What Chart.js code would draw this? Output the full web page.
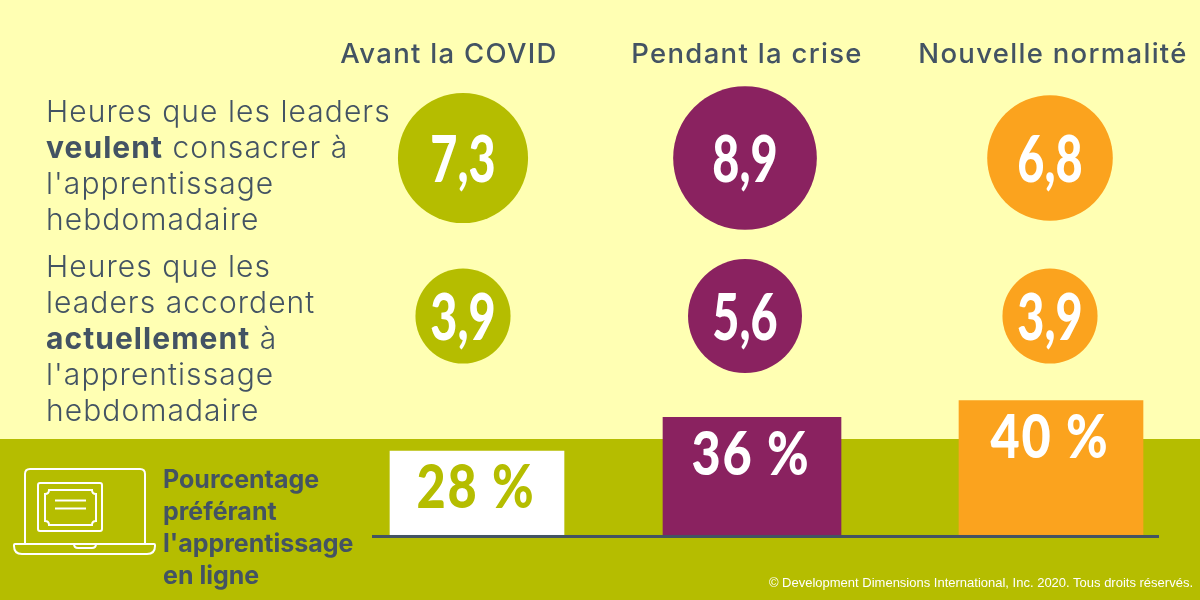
<!DOCTYPE html>
<html lang="fr">
<head>
<meta charset="utf-8">
<title>Apprentissage des leaders</title>
<script src="https://cdn.jsdelivr.net/npm/chart.js@4"></script>
<style>
  html, body { margin: 0; padding: 0; }
  #page { position: relative; width: 1200px; height: 600px; overflow: hidden; background: #ffffb3; font-family: Inter, sans-serif; color: #435363; }
  #band { position: absolute; left: 0; top: 439px; width: 1200px; height: 161px; background: #b5bd00; }
  canvas { position: absolute; left: 0; top: 0; }
  .rowLabel { position: absolute; left: 46px; font-size: 30px; font-weight: 300; line-height: 36px; letter-spacing: 1.05px; white-space: nowrap; }
  .rowLabel b { font-weight: 700; }
  #barLabel { position: absolute; left: 163px; top: 463px; font-size: 25px; font-weight: 700; line-height: 32px; white-space: nowrap; }
  #laptop { position: absolute; left: 0; top: 420px; }
  #copyright { position: absolute; right: 7px; top: 575px; font: 13px "Liberation Sans", sans-serif; color: #fff; white-space: nowrap; }
</style>
</head>
<body>
<div id="page">
  <div id="band"></div>
  <canvas id="chart" width="1200" height="600"></canvas>
  <div class="rowLabel" style="top:93px">Heures que les leaders<br><b>veulent</b> consacrer à<br>l'apprentissage<br>hebdomadaire</div>
  <div class="rowLabel" style="top:248px">Heures que les<br>leaders accordent<br><b>actuellement</b> à<br>l'apprentissage<br>hebdomadaire</div>
  <svg id="laptop" width="170" height="150" fill="none" stroke="#fff" stroke-width="2">
    <path d="M25 123V54q0-5 5-5H140q5 0 5 5V123"/>
    <path d="M15 124H154q1 0 1 1v1q0 8-8 8H22q-8 0-8-8v-1q0-1 1-1Z"/>
    <path d="M74 124q0 4 4 4H92q4 0 4-4"/>
    <rect x="38" y="63" width="64" height="48" rx="2"/>
    <path d="M49 70H92q0 4 4 4V101q-4 0-4 4H49q0-4-4-4V74q4 0 4-4Z"/>
    <path d="M55 80.500H86M55 88.500H86"/>
  </svg>
  <div id="barLabel">Pourcentage<br>préférant<br>l'apprentissage<br>en ligne</div>
  <div id="copyright">© Development Dimensions International, Inc. 2020. Tous droits réservés.</div>
</div>
<script>
const phases = ["Avant la COVID", "Pendant la crise", "Nouvelle normalité"];
const hoursWanted = [7.3, 8.9, 6.8];
const hoursGiven = [3.9, 5.6, 3.9];
const onlinePct = [28, 36, 40];

const colors = ["#b5bd00", "#8a2260", "#fba31e"];
const barColors = ["#ffffff", "#8a2260", "#fba31e"];
const barTextColors = ["#b5bd00", "#ffffff", "#ffffff"];
const barWidths = [174, 178, 184];
const ink = "#435363";

// columns in the picture are not evenly spaced, so the scale looks them up
class ColumnScale extends Chart.CategoryScale {
  getPixelForValue(value) {
    return this.options.centres[value];
  }
}
ColumnScale.id = "columns";
ColumnScale.defaults = Chart.CategoryScale.defaults;
Chart.register(ColumnScale);

const barBase = 8;

function bubbleData(values, row) {
  return values.map((v, i) => ({ x: phases[i], y: row, r: Math.sqrt(v * 580), v: v }));
}

function drawText(ctx, text, x, y, font, color, squeeze, spacing) {
  ctx.save();
  ctx.font = font;
  ctx.fillStyle = color;
  ctx.textAlign = "center";
  ctx.textBaseline = "middle";
  ctx.letterSpacing = (spacing || 0) + "px";
  ctx.translate(x, y);
  ctx.scale(squeeze, 1);
  ctx.fillText(text, 0, 0);
  ctx.restore();
}

const textPlugin = {
  id: "texts",
  afterDatasetsDraw(chart) {
    const ctx = chart.ctx;
    // column headings
    const headX = [449, 747, 1053];
    phases.forEach((name, i) => {
      drawText(ctx, name, headX[i], 55, "500 27.5px Inter", ink, 1, 1.3);
    });
    // baseline under the bars
    const yBase = chart.scales.yBars.getPixelForValue(barBase);
    ctx.fillStyle = ink;
    ctx.fillRect(372, yBase, 787, 3);
    // values inside circles and bars
    chart.data.datasets.forEach((ds, d) => {
      const meta = chart.getDatasetMeta(d);
      if (ds.type === "bubble") {
        meta.data.forEach((el, i) => {
          const label = ds.data[i].v.toFixed(1).replace(".", ",");
          drawText(ctx, label, el.x, el.y + 3, "900 65px Lato", "#fff", 0.72);
        });
      } else {
        const i = ds.barIndex;
        const el = meta.data[i];
        drawText(ctx, onlinePct[i] + " %", el.x - 1, el.y + 38, "900 60px Lato", barTextColors[i], 0.84, 2);
      }
    });
  }
};

new Chart(document.getElementById("chart"), {
  type: "bar",
  data: {
    labels: phases,
    datasets: [
      { type: "bubble", data: bubbleData(hoursWanted, 0), backgroundColor: colors, borderWidth: 0, xAxisID: "xCircles", yAxisID: "yRows" },
      { type: "bubble", data: bubbleData(hoursGiven, 1), backgroundColor: colors, borderWidth: 0, xAxisID: "xCircles", yAxisID: "yRows" },
      ...onlinePct.map((v, i) => ({
        type: "bar",
        barIndex: i,
        data: onlinePct.map((_, j) => (j === i ? v : null)),
        backgroundColor: barColors[i],
        barThickness: barWidths[i],
        base: barBase,
        grouped: false,
        xAxisID: "xBars",
        yAxisID: "yBars"
      }))
    ]
  },
  options: {
    responsive: false,
    animation: false,
    devicePixelRatio: 1,
    events: [],
    layout: { padding: 0, autoPadding: false },
    plugins: { legend: { display: false }, tooltip: { enabled: false } },
    scales: {
      xCircles: { type: "columns", axis: "x", position: "bottom", display: false, centres: [463, 745, 1050] },
      xBars: { type: "columns", axis: "x", position: "bottom", display: false, centres: [477, 752, 1051] },
      yRows: { type: "linear", position: "left", display: false, reverse: true, min: -1, max: 2.797 },
      yBars: { type: "linear", position: "left", display: false, min: -7.48, max: 135.38 }
    }
  },
  plugins: [textPlugin]
});
</script>
</body>
</html>
